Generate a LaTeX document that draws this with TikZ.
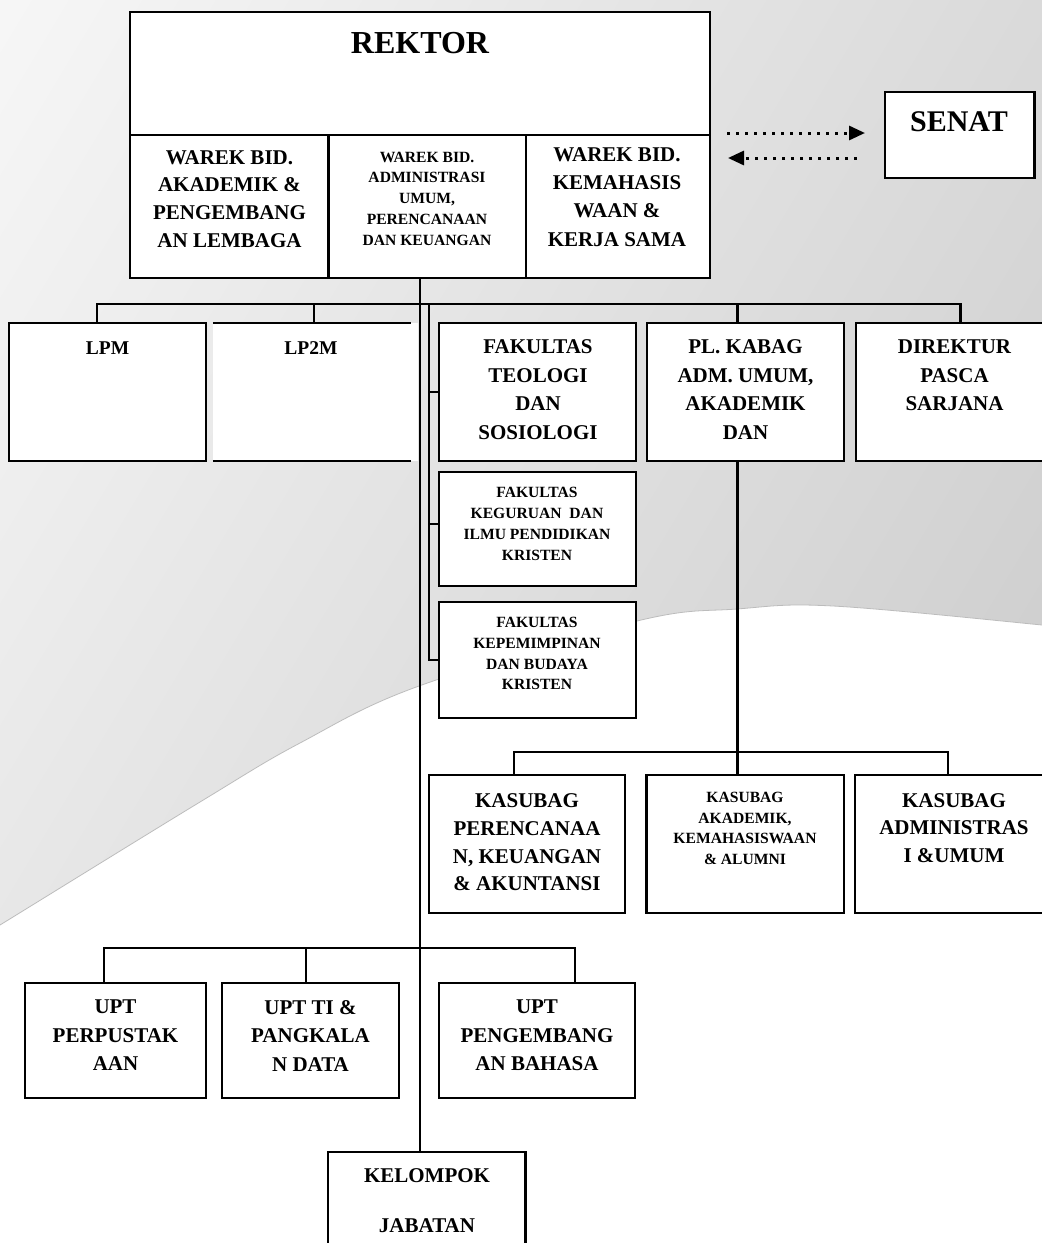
\documentclass[tikz,border=0pt]{standalone}
\usepackage{fontspec}
\setmainfont{Liberation Serif}
\usetikzlibrary{arrows.meta}
\definecolor{bgA}{RGB}{248,248,248}
\definecolor{bgB}{RGB}{196,196,196}
\definecolor{curveC}{RGB}{188,188,188}
\newcommand\boxtext[5]{\node[txt, font=\bfseries\fontsize{#3}{#4}\selectfont] (#1) at #2 {#5};}
\begin{document}
\begin{tikzpicture}[x=1pt,y=-1pt,
  box/.style={draw, line width=2.2pt, fill=white, inner sep=0pt},
  conn/.style={line width=2.2pt, line join=miter},
  dotline/.style={line width=3pt, dash pattern=on 3pt off 6pt, -{Triangle[length=16pt,width=14pt]}},
  txt/.style={inner sep=0pt, align=center, anchor=north}]
\useasboundingbox (0,0) rectangle (1042,1243);
\clip (0,0) rectangle (1042,1243);
% background
\shade[left color=bgA, right color=bgB, shading angle=59] (-299,-198.5) rectangle (1341,1441.5);
\fill[white] plot[smooth, tension=0.6] coordinates {(-20,937) (0,925) (200,802) (300,743) (419,686) (637,621) (737,609) (833,606) (1042,625) (1060,628)} -- (1060,1260) -- (-20,1260) -- cycle;
\draw[curveC, line width=0.8pt] plot[smooth, tension=0.6] coordinates {(-20,937) (0,925) (200,802) (300,743) (419,686) (637,621) (737,609) (833,606) (1042,625) (1060,628)};

% boxes
\node[box, minimum width=580pt, minimum height=123pt] (rektor) at (420,73.5) {};
\node[box, minimum width=198.5pt, minimum height=143pt] (warek1) at (229.25,206.5) {};
\node[box, minimum width=197.5pt, minimum height=143pt] (warek2) at (427.25,206.5) {};
\node[box, minimum width=184pt, minimum height=143pt] (warek3) at (618,206.5) {};
\node[box, minimum width=149.5pt, minimum height=86pt] (senat) at (959.75,135) {};

% connector points
\coordinate (sp) at (420,304);
\coordinate (b1) at (97,304);
\coordinate (b2) at (314,304);
\coordinate (b3) at (429,304);
\coordinate (b4) at (737.5,304);
\coordinate (b5) at (960.5,304);
\coordinate (k1) at (513.6,752);
\coordinate (k3) at (948,752);
\coordinate (u1) at (103.6,948);
\coordinate (u2) at (306,948);
\coordinate (u3) at (574.6,948);

\node[box, minimum width=197pt, minimum height=138pt] (lpm) at (107.5,392) {};
\node[fill=white, inner sep=0pt, minimum width=205pt, minimum height=138pt] (lp2m) at (315.5,392) {};
\node[box, minimum width=197pt, minimum height=138pt] (fak1) at (537.5,392) {};
\node[box, minimum width=197pt, minimum height=114pt] (fak2) at (537.5,529) {};
\node[box, minimum width=197pt, minimum height=116pt] (fak3) at (537.5,660) {};
\node[box, minimum width=197pt, minimum height=138pt] (plkabag) at (745.5,392) {};
\node[box, minimum width=197pt, minimum height=138pt] (direktur) at (954.5,392) {};
\node[box, minimum width=196pt, minimum height=138pt] (kas1) at (527,844) {};
\node[box, minimum width=197.5pt, minimum height=138pt] (kas2) at (745.25,844) {};
\node[box, minimum width=198pt, minimum height=138pt] (kas3) at (954,844) {};
\node[box, minimum width=181pt, minimum height=115pt] (upt1) at (115.5,1040.5) {};
\node[box, minimum width=177pt, minimum height=115pt] (upt2) at (310.5,1040.5) {};
\node[box, minimum width=196pt, minimum height=115pt] (upt3) at (537,1040.5) {};
\node[box, minimum width=197.5pt, minimum height=118pt] (kelompok) at (426.75,1211) {};
\coordinate (f2t) at ([yshift=5pt]fak2.west);

\draw[conn] (lp2m.north west) -- ++(198,0);
\draw[conn] (lp2m.south west) -- ++(198,0);

\draw[conn] (warek2.south -| sp) -- (kelompok.north -| sp);
\draw[conn] (b1 |- lpm.north) -- (b1) -- (b5) -- (b5 |- direktur.north);
\draw[conn] (b2) -- (b2 |- lp2m.north);
\draw[conn] (b4) -- (b4 |- plkabag.north);
\draw[conn] (b3) -- (b3 |- fak3.west) -- (fak3.west);
\draw[conn] (b3 |- fak1.west) -- (fak1.west);
\draw[conn] (b3 |- f2t) -- (f2t);
\draw[conn] (b4 |- plkabag.south) -- (b4 |- kas2.north);
\draw[conn] (k1 |- kas1.north) -- (k1) -- (k3) -- (k3 |- kas3.north);
\draw[conn] (u1 |- upt1.north) -- (u1) -- (u3) -- (u3 |- upt3.north);
\draw[conn] (u2) -- (u2 |- upt2.north);

% senat arrows
\coordinate (a1s) at (727,133);
\coordinate (a1e) at (865,133);
\coordinate (a2s) at (857,158);
\coordinate (a2e) at (728,158);
\draw[dotline] (a1s) -- (a1e);
\draw[dotline] (a2s) -- (a2e);

% texts
\boxtext{t-rektor}{(420,32.5)}{32}{38}{REKTOR}
\boxtext{t-warek1}{(229.5,150)}{21}{27.8}{WAREK BID.\\AKADEMIK \&\\PENGEMBANG\\AN LEMBAGA}
\boxtext{t-warek2}{(427,151.7)}{15.6}{20.7}{WAREK BID.\\ADMINISTRASI\\UMUM,\\PERENCANAAN\\DAN KEUANGAN}
\boxtext{t-warek3}{(617,147.3)}{21}{28.3}{WAREK BID.\\KEMAHASIS\\WAAN \&\\KERJA SAMA}
\boxtext{t-senat}{(959,111)}{30}{36}{SENAT}
\boxtext{t-lpm}{(107.5,341.7)}{19.5}{24}{LPM}
\boxtext{t-lp2m}{(311,341.7)}{19.5}{24}{LP2M}
\boxtext{t-fak1}{(538,339.7)}{21}{28.5}{FAKULTAS\\TEOLOGI\\DAN\\SOSIOLOGI}
\boxtext{t-plkabag}{(745.5,339.7)}{21}{28.5}{PL. KABAG\\ADM. UMUM,\\AKADEMIK\\DAN}
\boxtext{t-direktur}{(954.5,339.7)}{21}{28.5}{DIREKTUR\\PASCA\\SARJANA}
\boxtext{t-fak2}{(537,487.3)}{15.6}{21}{FAKULTAS\\KEGURUAN\ \ DAN\\ILMU PENDIDIKAN\\KRISTEN}
\boxtext{t-fak3}{(537,616.7)}{15.6}{20.9}{FAKULTAS\\KEPEMIMPINAN\\DAN BUDAYA\\KRISTEN}
\boxtext{t-kas1}{(527,793.3)}{21}{27.8}{KASUBAG\\PERENCANAA\\N, KEUANGAN\\\& AKUNTANSI}
\boxtext{t-kas2}{(745,791.7)}{15.6}{20.8}{KASUBAG\\AKADEMIK,\\KEMAHASISWAAN\\\& ALUMNI}
\boxtext{t-kas3}{(954,793.3)}{21}{27.5}{KASUBAG\\ADMINISTRAS\\I \&UMUM}
\boxtext{t-upt1}{(115.5,1000)}{21}{28.5}{UPT\\PERPUSTAK\\AAN}
\boxtext{t-upt2}{(310.5,1000)}{21}{28.5}{UPT TI \&\\PANGKALA\\N DATA}
\boxtext{t-upt3}{(537,1000)}{21}{28.5}{UPT\\PENGEMBANG\\AN BAHASA}
\boxtext{t-kelompok}{(427,1168)}{21}{28}{KELOMPOK\\[22pt]JABATAN}
\end{tikzpicture}
\end{document}
